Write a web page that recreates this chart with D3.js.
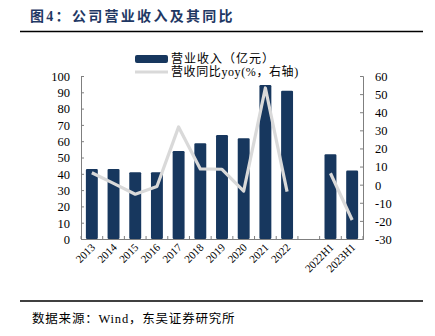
<!DOCTYPE html>
<html><head><meta charset="utf-8">
<script src="https://cdn.jsdelivr.net/npm/d3@7"></script>
<style>
body{margin:0;background:#fff;}
text{font-family:"Times New Roman","Liberation Serif","Noto Sans CJK SC",serif;}
</style></head>
<body><svg id="c" width="435" height="336"></svg>
<script>
const categories = ["2013","2014","2015","2016","2017","2018","2019","2020","2021","2022","","2022H1","2023H1"];
const revenue = [43, 43, 41, 41, 54, 58.7, 63.8, 61.8, 94.5, 91, null, 52, 42];
const yoy = [6.6, 0.7, -5.3, -1, 31.9, 8.7, 8.5, -3.5, 53.4, -3.8, null, 6.3, -19.5];
const leftTicks = [0,10,20,30,40,50,60,70,80,90,100];
const rightTicks = [-30,-20,-10,0,10,20,30,40,50,60];
const legendLabels = ["营业收入（亿元）","营收同比yoy(%，右轴)"];
const title = "图4：公司营业收入及其同比";
const source = "数据来源：Wind，东吴证券研究所";

const svg = d3.select("#c");
const L = 81, R = 363, T = 76, B = 239;
const barColor = "#17375e", lineColor = "#d9d9d9", axisColor = "#7f7f7f";

const x = d3.scaleBand().domain(d3.range(categories.length)).range([L, R]).paddingInner(0.45).paddingOuter(0.225);
const yL = d3.scaleLinear().domain([0,100]).range([B, T]);
const yR = d3.scaleLinear().domain([-30,60]).range([B, T]);

// title
svg.append("text").attr("x",30).attr("y",21).attr("font-size",14).attr("font-weight","bold")
  .attr("letter-spacing",2.3)
  .attr("fill","#1f3864").attr("font-family","'Noto Sans CJK SC',sans-serif").text(title);
svg.append("line").attr("x1",20).attr("x2",423).attr("y1",31.5).attr("y2",31.5).attr("stroke","#000").attr("stroke-width",1.3);
svg.append("line").attr("x1",20).attr("x2",423).attr("y1",301).attr("y2",301).attr("stroke","#000").attr("stroke-width",1.3);
svg.append("text").attr("x",32).attr("y",323).attr("font-size",12.5).attr("letter-spacing",0.8).attr("fill","#000").text(source);

// bars
svg.append("g").selectAll("rect").data(revenue.map((v,i)=>({v,i})).filter(d=>d.v!=null)).join("rect")
  .attr("x",d=>x(d.i)).attr("width",x.bandwidth())
  .attr("y",d=>yL(d.v)).attr("height",d=>B-yL(d.v))
  .attr("rx",1.2).attr("fill",barColor);

// line with gap
const line = d3.line().defined(d=>d.v!=null).x(d=>x(d.i)+x.bandwidth()/2).y(d=>yR(d.v));
svg.append("path").datum(yoy.map((v,i)=>({v,i}))).attr("d",line)
  .attr("fill","none").attr("stroke",lineColor).attr("stroke-width",3.2).attr("stroke-linejoin","round");

// axes
const fs = 12.5;
const gL = svg.append("g").attr("transform",`translate(${L},0)`)
  .call(d3.axisRight(yL).tickValues(leftTicks).tickSize(3).tickFormat(d3.format("d")));
gL.selectAll("text").remove();
gL.selectAll(".tick").append("text").attr("x",-11).attr("dy","0.35em").attr("text-anchor","end")
  .attr("font-size",fs).attr("fill","#000").text(d=>d);
const gR = svg.append("g").attr("transform",`translate(${R},0)`)
  .call(d3.axisLeft(yR).tickValues(rightTicks).tickSize(3));
gR.selectAll("text").remove();
gR.selectAll(".tick").append("text").attr("x",12).attr("dy","0.35em").attr("text-anchor","start")
  .attr("font-size",fs).attr("fill","#000").text(d=>d);
const gB = svg.append("g").attr("transform",`translate(0,${B})`)
  .call(d3.axisBottom(x).tickSize(0).tickFormat(""));
const bounds = d3.range(categories.length+1).map(i=> i===0?L: (i===categories.length?R: x(i)-x.step()*x.paddingInner()/2));
gB.selectAll(".btick").data(bounds).join("line").attr("class","btick")
  .attr("x1",d=>d).attr("x2",d=>d).attr("y1",0).attr("y2",-3).attr("stroke",axisColor);
gB.selectAll(".xl").data(categories.map((c,i)=>({c,i}))).join("text").attr("class","xl")
  .attr("transform",d=>`translate(${x(d.i)+x.bandwidth()/2+4},9) rotate(-45)`)
  .attr("text-anchor","end").attr("font-size",11).attr("fill","#000").text(d=>d.c);
[gL,gR,gB].forEach(g=>{g.select(".domain").attr("stroke",axisColor); g.selectAll(".tick line").attr("stroke",axisColor);});

// legend
svg.append("rect").attr("x",135).attr("y",55).attr("width",33).attr("height",8).attr("rx",2).attr("fill",barColor);
svg.append("text").attr("x",171).attr("y",63).attr("font-size",12).attr("letter-spacing",1).attr("fill","#000").text(legendLabels[0]);
svg.append("line").attr("x1",135).attr("x2",168).attr("y1",72).attr("y2",72).attr("stroke",lineColor).attr("stroke-width",3);
svg.append("text").attr("x",171).attr("y",76).attr("font-size",12).attr("letter-spacing",0.6).attr("fill","#000").text(legendLabels[1]);
</script></body></html>
